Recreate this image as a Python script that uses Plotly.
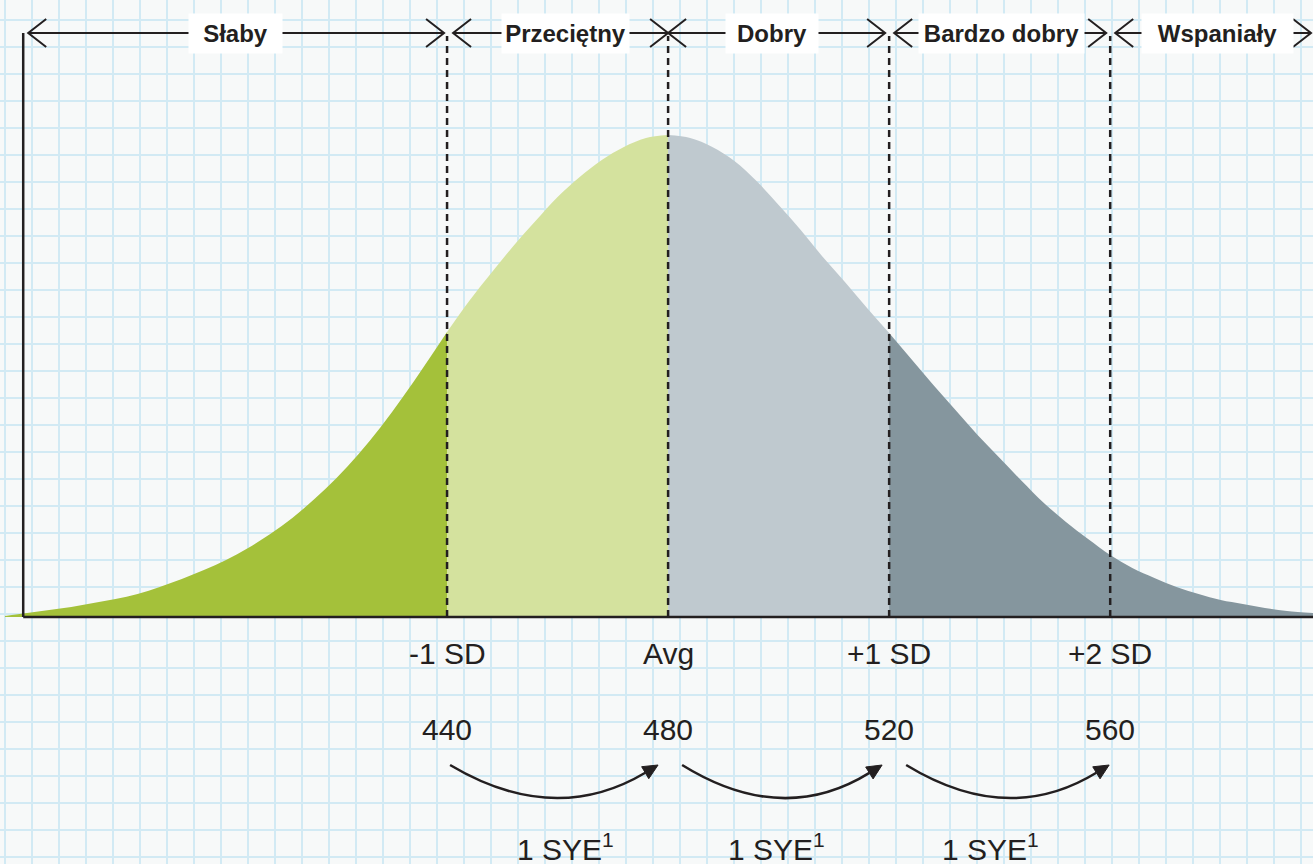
import math
import plotly.graph_objects as go

# normal curve: score on x, curve height (px above baseline)
score = [360, 364, 368, 372, 376, 380, 384, 388, 392, 396, 400, 404, 408, 412,
         416, 420, 424, 428, 432, 436, 440, 444, 448, 452, 456, 460, 464, 468,
         472, 476, 480, 484, 488, 492, 496, 500, 504, 508, 512, 516, 520, 524,
         528, 532, 536, 540, 544, 548, 552, 556, 560, 564, 568, 572, 576, 580,
         584, 588, 592, 596.7]
height = [1, 4, 7, 10, 14, 18, 23, 30, 38, 47, 57, 69, 83, 99,
          118, 139, 163, 190, 220, 252, 285, 316, 344, 371, 396, 420, 440, 457,
          470, 479, 482, 479, 470, 456, 436, 412, 387, 360, 335, 309, 284, 258,
          232, 207, 182, 159, 136, 114, 95, 78, 62, 49, 39, 30, 23, 17,
          13, 9, 6, 4]

band_edges = [363.3, 440, 480, 520, 560, 596.7]
band_names = ["Słaby", "Przeciętny", "Dobry", "Bardzo dobry", "Wspaniały"]

fill_breaks = [440, 480, 520]
fill_colors = ["#a4c13a", "#d4e29e", "#bfc9cf", "#85969e"]

sd_ticks = [440, 480, 520, 560]
sd_labels = ["-1 SD", "Avg", "+1 SD", "+2 SD"]
sye_steps = [(440, 480), (480, 520), (520, 560)]
sye_label = "1 SYE<sup>1</sup>"

INK = "#231f20"
FONT = "Liberation Sans, Arial, sans-serif"
X0, X1 = 359.1, 596.7
Y0, Y1 = -247, 617
W, H = 1313, 864
PX = W / (X1 - X0)  # pixels per score point
TOP = 584           # height of the band arrows

fig = go.Figure()

# coloured areas under the curve
edges = [-1e9] + fill_breaks + [1e9]
for i, col in enumerate(fill_colors):
    lo, hi = edges[i], edges[i + 1]
    xs = [s for s in score if lo <= s <= hi]
    ys = [h for s, h in zip(score, height) if lo <= s <= hi]
    fig.add_trace(go.Scatter(x=xs, y=ys, mode="lines", fill="tozeroy",
                             fillcolor=col, line=dict(width=0, color=col, shape="spline"),
                             hoverinfo="skip"))

shapes = []
annotations = []

# axes
shapes.append(dict(type="line", x0=band_edges[0], x1=band_edges[0], y0=0, y1=TOP,
                   line=dict(color=INK, width=2.5)))
shapes.append(dict(type="line", x0=band_edges[0], x1=X1, y0=0, y1=0,
                   line=dict(color=INK, width=2.5)))

# dashed SD lines
for v in sd_ticks:
    shapes.append(dict(type="line", x0=v, x1=v, y0=0, y1=TOP - 3,
                       line=dict(color=INK, width=2.5, dash="7px,5px")))

# band arrows across the top
left_off = [5, 6, 0, 5, 5]
right_off = [3, 0, 4, 4, 2]
box_w = [93, 127, 92, 165, 151]
label_shift = [0, 8, -7, 2, 6]
for i, name in enumerate(band_names):
    a = band_edges[i] + left_off[i] / PX
    b = band_edges[i + 1] - right_off[i] / PX
    shapes.append(dict(type="line", x0=a, x1=b, y0=TOP, y1=TOP,
                       line=dict(color=INK, width=2)))
    shapes.append(dict(type="path", xsizemode="pixel", ysizemode="pixel",
                       xanchor=a, yanchor=TOP, path="M 18,14 L 0,0 L 18,-14",
                       line=dict(color=INK, width=2)))
    shapes.append(dict(type="path", xsizemode="pixel", ysizemode="pixel",
                       xanchor=b, yanchor=TOP, path="M -18,14 L 0,0 L -18,-14",
                       line=dict(color=INK, width=2)))
    annotations.append(dict(x=(band_edges[i] + band_edges[i + 1]) / 2, y=TOP,
                            xshift=label_shift[i],
                            text=f"<b>{name}</b>", showarrow=False,
                            bgcolor="white", width=box_w[i], height=39, borderpad=0,
                            font=dict(family=FONT, size=24, color=INK)))

# SD labels and scores
for v, lab in zip(sd_ticks, sd_labels):
    annotations.append(dict(x=v, y=-36, text=lab, showarrow=False,
                            font=dict(family=FONT, size=30, color=INK)))
    annotations.append(dict(x=v, y=-112, text=str(v), showarrow=False,
                            font=dict(family=FONT, size=30, color=INK)))

# curved SYE arrows
start_off = [3, 14, 17]
end_off = [-10, -7, -1]
sye_shift = [8, -2, -9]
for (a, b), so, eo, sh in zip(sye_steps, start_off, end_off, sye_shift):
    xa = a + so / PX
    w = (b - a) * PX + eo - so
    cx, cy = w * 0.5, -62
    ang = math.atan2(0 - cy, w - cx)
    ux, uy = math.cos(ang), math.sin(ang)
    bx, by = w - 15 * ux, -15 * uy
    nx, ny = -uy, ux
    shapes.append(dict(type="path", xsizemode="pixel", ysizemode="pixel",
                       xanchor=xa, yanchor=-148,
                       path=f"M 0,0 Q {cx:.1f},{cy:.1f} {bx:.1f},{by:.1f}",
                       line=dict(color=INK, width=2.5)))
    shapes.append(dict(type="path", xsizemode="pixel", ysizemode="pixel",
                       xanchor=xa, yanchor=-148,
                       path=(f"M {w:.1f},0 L {bx + 7 * nx:.1f},{by + 7 * ny:.1f} "
                             f"L {bx - 7 * nx:.1f},{by - 7 * ny:.1f} Z"),
                       fillcolor=INK, line=dict(color=INK, width=1)))
    annotations.append(dict(x=(a + b) / 2, y=-230, xshift=sh, text=sye_label,
                            showarrow=False, font=dict(family=FONT, size=30, color=INK)))

fig.update_layout(
    width=W, height=H, margin=dict(l=0, r=0, t=0, b=0),
    paper_bgcolor="#f7f9f9", plot_bgcolor="#f7f9f9", showlegend=False,
    xaxis=dict(range=[X0, X1], showticklabels=False, zeroline=False, showline=False,
               showgrid=True, gridcolor="#d2eaf4", gridwidth=2,
               tick0=360, dtick=27 / PX, ticks="", fixedrange=True),
    yaxis=dict(range=[Y0, Y1], showticklabels=False, zeroline=False, showline=False,
               showgrid=True, gridcolor="#d2eaf4", gridwidth=2,
               tick0=489, dtick=27, ticks="", fixedrange=True),
    shapes=shapes, annotations=annotations,
)

fig.write_html("out.html", config={"displayModeBar": False},
               post_script="document.body.style.margin = '0';")
